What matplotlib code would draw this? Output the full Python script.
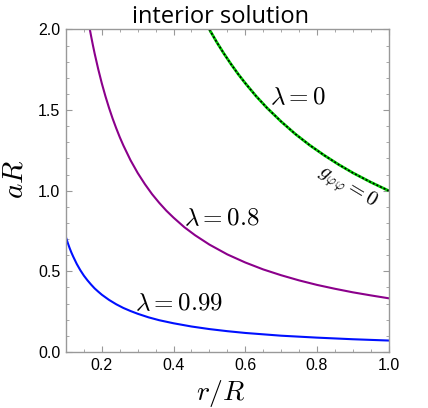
import matplotlib
matplotlib.use("Agg")
import matplotlib.pyplot as plt
from matplotlib.ticker import MultipleLocator

plt.rcParams['mathtext.fontset'] = 'cm'

# Data
x_l0 = [0.50, 0.52, 0.54, 0.56, 0.58, 0.60, 0.63, 0.66, 0.70, 0.74, 0.78, 0.82,
        0.86, 0.90, 0.95, 1.00]
y_l0 = [2.000, 1.923, 1.852, 1.786, 1.724, 1.667, 1.587, 1.515, 1.429, 1.351,
        1.282, 1.220, 1.163, 1.111, 1.053, 1.000]

x_l08 = [0.165, 0.17, 0.175, 0.18, 0.19, 0.20, 0.21, 0.22, 0.23, 0.24, 0.25, 0.26,
         0.28, 0.30, 0.32, 0.34, 0.36, 0.38, 0.40, 0.43, 0.46, 0.50, 0.55, 0.60,
         0.65, 0.70, 0.75, 0.80, 0.85, 0.90, 0.95, 1.00]
y_l08 = [2.018, 1.959, 1.903, 1.850, 1.753, 1.665, 1.586, 1.514, 1.448, 1.388,
         1.332, 1.281, 1.189, 1.110, 1.041, 0.979, 0.925, 0.876, 0.833, 0.774,
         0.724, 0.666, 0.605, 0.555, 0.512, 0.476, 0.444, 0.416, 0.392, 0.370,
         0.351, 0.333]

x_l099 = [0.10, 0.105, 0.11, 0.115, 0.12, 0.13, 0.14, 0.15, 0.16, 0.17, 0.18, 0.19,
          0.20, 0.22, 0.24, 0.26, 0.28, 0.30, 0.33, 0.36, 0.40, 0.45, 0.50, 0.55,
          0.60, 0.70, 0.80, 0.90, 1.00]
y_l099 = [0.710, 0.676, 0.645, 0.617, 0.592, 0.546, 0.507, 0.473, 0.444, 0.418,
          0.394, 0.374, 0.355, 0.323, 0.296, 0.273, 0.254, 0.237, 0.215, 0.197,
          0.178, 0.158, 0.142, 0.129, 0.118, 0.101, 0.089, 0.079, 0.071]

x_ticks = [0.2, 0.4, 0.6, 0.8, 1.0]
y_ticks = [0.0, 0.5, 1.0, 1.5, 2.0]

fig = plt.figure(figsize=(4.28, 4.08), dpi=100)
ax = fig.add_axes([0.1542, 0.1373, 0.754, 0.7904])

ax.plot(x_l0, y_l0, color='#00cc00', lw=2.0, solid_capstyle='butt')
ax.plot(x_l0, y_l0, color='black', lw=1.2, dashes=(1.2, 1.2))
ax.plot(x_l08, y_l08, color='#8b008b', lw=1.5)
ax.plot(x_l099, y_l099, color='#0010ff', lw=1.5)

ax.set_xlim(0.1, 1.0)
ax.set_ylim(0.0, 2.0)
ax.set_xticks(x_ticks)
ax.set_yticks(y_ticks)
ax.xaxis.set_minor_locator(MultipleLocator(0.05))
ax.yaxis.set_minor_locator(MultipleLocator(0.1))
ax.tick_params(which='both', direction='in', top=True, right=True,
               color='#999999', labelsize=11.5, pad=4)
ax.tick_params(which='major', length=4, width=0.8)
ax.tick_params(which='minor', length=2, width=0.6)
for lab in ax.get_xticklabels() + ax.get_yticklabels():
    lab.set_family('Liberation Sans')
for s in ax.spines.values():
    s.set_color('#999999')
    s.set_linewidth(1.0)

ax.set_title('interior solution', fontsize=17, family='Open Sans', pad=5, x=0.48)
ax.set_xlabel('$r/R$', fontsize=20)
ax.set_ylabel('$aR$', fontsize=21)
ax.xaxis.set_label_coords(0.48, -0.08)
ax.yaxis.set_label_coords(-0.115, 0.536)

ax.text(0.747, 1.58, r'$\lambda = 0$', fontsize=18, ha='center', va='center')
ax.text(0.535, 0.83, r'$\lambda = 0.8$', fontsize=18, ha='center', va='center')
ax.text(0.4165, 0.30, r'$\lambda = 0.99$', fontsize=18, ha='center', va='center')
ax.text(0.884, 1.02, r'$g_{\varphi\varphi} = 0$', fontsize=15, ha='center',
        va='center', rotation=-31)

fig.savefig('out.png', dpi=100)
